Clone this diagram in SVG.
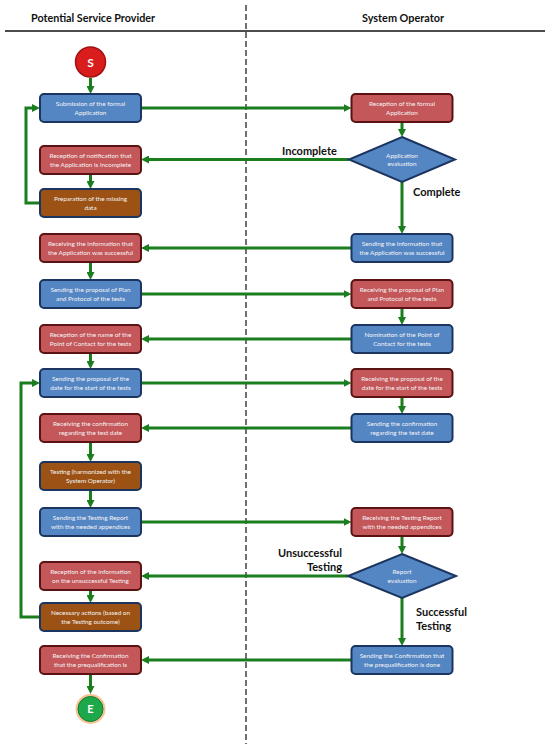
<svg xmlns="http://www.w3.org/2000/svg" width="550" height="744" viewBox="0 0 550 744">
<style>
.hdr{font-family:Lato,"Liberation Sans",sans-serif;font-weight:bold;font-size:11.5px;fill:#111;text-anchor:middle}
.lbl{font-family:Lato,"Liberation Sans",sans-serif;font-weight:bold;font-size:11px;fill:#111}
.bt{font-family:Lato,"Liberation Sans",sans-serif;font-size:6.4px;fill:#f4f4f4;text-anchor:middle}
.blue{fill:#5586c4;stroke:#1b3560;stroke-width:2}
.red{fill:#c4575a;stroke:#5a1212;stroke-width:2}
.brown{fill:#9b5214;stroke:#1b3560;stroke-width:2}
.dia{fill:#5586c4;stroke:#1b3560;stroke-width:2}
.con{fill:none;stroke:#1a7d1e;stroke-width:3;marker-end:url(#ah)}
</style>
<defs>
<marker id="ah" viewBox="0 0 8 8" refX="4" refY="4" markerWidth="8" markerHeight="8" markerUnits="userSpaceOnUse" orient="auto">
<path d="M0,0 L8,4 L0,8 z" fill="#1a7d1e"/>
</marker>
</defs>
<rect x="0" y="0" width="550" height="744" fill="#ffffff"/>
<g id="lanes">
<line x1="5" y1="31" x2="545" y2="31" stroke="#111" stroke-width="1.5"/>
<line x1="246" y1="5" x2="246" y2="744" stroke="#111" stroke-width="1.2" stroke-dasharray="6,3"/>
<text class="hdr" x="93" y="22" textLength="124" lengthAdjust="spacingAndGlyphs">Potential Service Provider</text>
<text class="hdr" x="403" y="22" textLength="82" lengthAdjust="spacingAndGlyphs">System Operator</text>
</g>
<g id="connectors">
<path class="con" d="M90.5,78 V90"/>
<path class="con" d="M141,108 H347.5"/>
<path class="con" d="M402,122 V133"/>
<path class="con" d="M349,159.5 H145"/>
<path class="con" d="M90.5,174 V185"/>
<path class="con" d="M40,203 H26 V108 H36"/>
<path class="con" d="M402,182 V230"/>
<path class="con" d="M351.5,248 H145"/>
<path class="con" d="M90.5,262 V276"/>
<path class="con" d="M141,294 H347.5"/>
<path class="con" d="M402,308 V321"/>
<path class="con" d="M351.5,339 H145"/>
<path class="con" d="M90.5,353 V365"/>
<path class="con" d="M141,383 H347.5"/>
<path class="con" d="M402,397 V410"/>
<path class="con" d="M351.5,428 H145"/>
<path class="con" d="M90.5,442 V458"/>
<path class="con" d="M90.5,490 V504"/>
<path class="con" d="M141,522 H347.5"/>
<path class="con" d="M402,536 V550"/>
<path class="con" d="M348,576 H145"/>
<path class="con" d="M90.5,590 V599"/>
<path class="con" d="M40,617 H21 V383 H36"/>
<path class="con" d="M402,598 V642"/>
<path class="con" d="M351.5,660 H145"/>
<path class="con" d="M90.5,674 V690"/>
<text class="lbl" x="282" y="155">Incomplete</text>
<text class="lbl" x="413" y="196">Complete</text>
<text class="lbl" x="342" y="557" text-anchor="end">Unsuccessful</text>
<text class="lbl" x="342" y="571" text-anchor="end">Testing</text>
<text class="lbl" x="416" y="616">Successful</text>
<text class="lbl" x="416" y="630">Testing</text>
</g>
<g id="start">
<circle cx="90.5" cy="62" r="15" fill="#d91c1c" stroke="#a01212" stroke-width="1.5"/>
<text x="90.5" y="66.5" font-family="Lato,'Liberation Sans',sans-serif" font-weight="bold" font-size="12" fill="#fff" text-anchor="middle">S</text>
</g>
<g id="L1"><rect class="blue" x="40" y="94" width="101" height="28" rx="4"/><text class="bt" x="90.5" y="106">Submission of the formal</text><text class="bt" x="90.5" y="114.5">Application</text></g>
<g id="L2"><rect class="red" x="40" y="146" width="101" height="28" rx="4"/><text class="bt" x="90.5" y="158">Reception of notification that</text><text class="bt" x="90.5" y="166.5">the Application is incomplete</text></g>
<g id="L3"><rect class="brown" x="40" y="189" width="101" height="28" rx="4"/><text class="bt" x="90.5" y="201">Preparation of the missing</text><text class="bt" x="90.5" y="209.5">data</text></g>
<g id="L4"><rect class="red" x="40" y="234" width="101" height="28" rx="4"/><text class="bt" x="90.5" y="246">Receiving the information that</text><text class="bt" x="90.5" y="254.5">the Application was successful</text></g>
<g id="L5"><rect class="blue" x="40" y="280" width="101" height="28" rx="4"/><text class="bt" x="90.5" y="292">Sending the proposal of Plan</text><text class="bt" x="90.5" y="300.5">and Protocol of the tests</text></g>
<g id="L6"><rect class="red" x="40" y="325" width="101" height="28" rx="4"/><text class="bt" x="90.5" y="337">Reception of the name of the</text><text class="bt" x="90.5" y="345.5">Point of Contact for the tests</text></g>
<g id="L7"><rect class="blue" x="40" y="369" width="101" height="28" rx="4"/><text class="bt" x="90.5" y="381">Sending the proposal of the</text><text class="bt" x="90.5" y="389.5">date for the start of the tests</text></g>
<g id="L8"><rect class="red" x="40" y="414" width="101" height="28" rx="4"/><text class="bt" x="90.5" y="426">Receiving the confirmation</text><text class="bt" x="90.5" y="434.5">regarding the test date</text></g>
<g id="L9"><rect class="brown" x="40" y="462" width="101" height="28" rx="4"/><text class="bt" x="90.5" y="474">Testing (harmonized with the</text><text class="bt" x="90.5" y="482.5">System Operator)</text></g>
<g id="L10"><rect class="blue" x="40" y="508" width="101" height="28" rx="4"/><text class="bt" x="90.5" y="520">Sending the Testing Report</text><text class="bt" x="90.5" y="528.5">with the needed appendices</text></g>
<g id="L11"><rect class="red" x="40" y="562" width="101" height="28" rx="4"/><text class="bt" x="90.5" y="574">Reception of the information</text><text class="bt" x="90.5" y="582.5">on the unsuccessful Testing</text></g>
<g id="L12"><rect class="brown" x="40" y="603" width="101" height="28" rx="4"/><text class="bt" x="90.5" y="615">Necessary actions (based on</text><text class="bt" x="90.5" y="623.5">the Testing outcome)</text></g>
<g id="L13"><rect class="red" x="40" y="646" width="101" height="28" rx="4"/><text class="bt" x="90.5" y="658">Receiving the Confirmation</text><text class="bt" x="90.5" y="666.5">that the prequalification is</text></g>
<g id="R1"><rect class="red" x="351.5" y="94" width="101" height="28" rx="4"/><text class="bt" x="402" y="106">Reception of the formal</text><text class="bt" x="402" y="114.5">Application</text></g>
<g id="D1"><polygon class="dia" points="402,137 455,159.5 402,182 349,159.5"/><text class="bt" x="402" y="157.5">Application</text><text class="bt" x="402" y="166">evaluation</text></g>
<g id="R2"><rect class="blue" x="351.5" y="234" width="101" height="28" rx="4"/><text class="bt" x="402" y="246">Sending the information that</text><text class="bt" x="402" y="254.5">the Application was successful</text></g>
<g id="R3"><rect class="red" x="351.5" y="280" width="101" height="28" rx="4"/><text class="bt" x="402" y="292">Receiving the proposal of Plan</text><text class="bt" x="402" y="300.5">and Protocol of the tests</text></g>
<g id="R4"><rect class="blue" x="351.5" y="325" width="101" height="28" rx="4"/><text class="bt" x="402" y="337">Nomination of the Point of</text><text class="bt" x="402" y="345.5">Contact for the tests</text></g>
<g id="R5"><rect class="red" x="351.5" y="369" width="101" height="28" rx="4"/><text class="bt" x="402" y="381">Receiving the proposal of the</text><text class="bt" x="402" y="389.5">date for the start of the tests</text></g>
<g id="R6"><rect class="blue" x="351.5" y="414" width="101" height="28" rx="4"/><text class="bt" x="402" y="426">Sending the confirmation</text><text class="bt" x="402" y="434.5">regarding the test date</text></g>
<g id="R7"><rect class="red" x="351.5" y="508" width="101" height="28" rx="4"/><text class="bt" x="402" y="520">Receiving the Testing Report</text><text class="bt" x="402" y="528.5">with the needed appendices</text></g>
<g id="D2"><polygon class="dia" points="402,554 456,576 402,598 348,576"/><text class="bt" x="402" y="574">Report</text><text class="bt" x="402" y="582.5">evaluation</text></g>
<g id="R8"><rect class="blue" x="351.5" y="646" width="101" height="28" rx="4"/><text class="bt" x="402" y="658">Sending the Confirmation that</text><text class="bt" x="402" y="666.5">the prequalification is done</text></g>
<g id="end">
<circle cx="90.5" cy="709" r="15" fill="#f6c291"/>
<circle cx="90.5" cy="709" r="12.5" fill="#1ea84c" stroke="#0f7a33" stroke-width="1"/>
<text x="90.5" y="713" font-family="Lato,'Liberation Sans',sans-serif" font-weight="bold" font-size="11" fill="#fff" text-anchor="middle">E</text>
</g>
</svg>
